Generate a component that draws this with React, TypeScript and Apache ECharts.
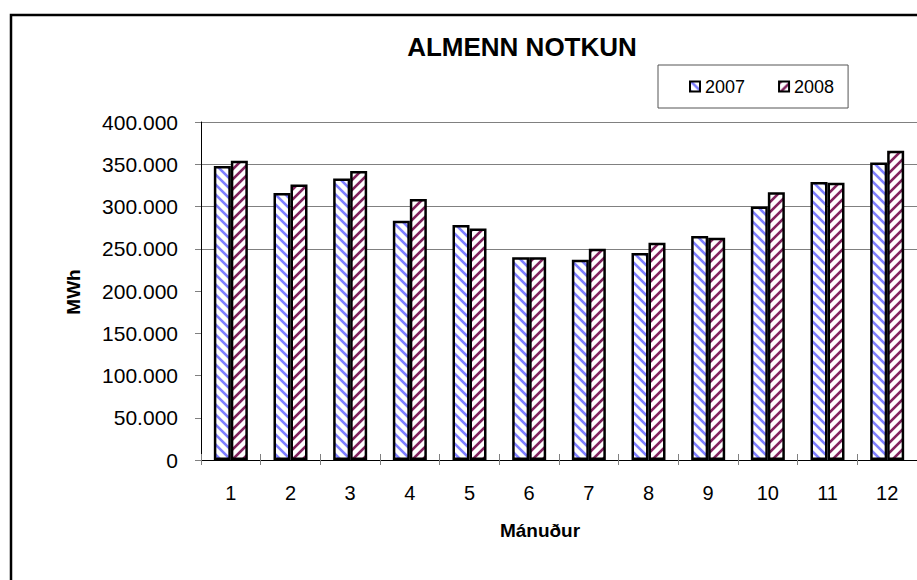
import React, { useEffect, useRef } from "react";
import * as echarts from "echarts";

const months = ["1", "2", "3", "4", "5", "6", "7", "8", "9", "10", "11", "12"];
const series2007 = [348000, 316000, 333000, 283000, 278000, 240000, 237000, 245000, 265000, 300000, 329000, 352000];
const series2008 = [354000, 326000, 342000, 309000, 274000, 240000, 250000, 257000, 263000, 317000, 328000, 366000];
const seriesNames = ["2007", "2008"];
const titleText = "ALMENN NOTKUN";
const yName = "MWh";
const xName = "Mánuður";

const FONT = "'Liberation Sans', Arial, sans-serif";

function makeStripe(rgb: [number, number, number], dir: 1 | -1) {
  const size = 10;
  const c = document.createElement("canvas");
  c.width = size;
  c.height = size;
  const ctx = c.getContext("2d")!;
  const img = ctx.createImageData(size, size);
  for (let y = 0; y < size; y++) {
    for (let x = 0; x < size; x++) {
      const d = (((dir === 1 ? x - y : x + y) % size) + size) % size;
      let a = 0;
      if (d === 0 || d === 1 || d === 2) a = 1;
      else if (d === 3 || d === size - 1) a = 0.35;
      const i = (y * size + x) * 4;
      img.data[i] = Math.round(255 * (1 - a) + rgb[0] * a);
      img.data[i + 1] = Math.round(255 * (1 - a) + rgb[1] * a);
      img.data[i + 2] = Math.round(255 * (1 - a) + rgb[2] * a);
      img.data[i + 3] = 255;
    }
  }
  ctx.putImageData(img, 0, 0);
  return { image: c.toDataURL(), repeat: "repeat", imageWidth: size, imageHeight: size } as any;
}

function fmt(v: number) {
  const s = String(Math.round(v));
  return s.replace(/\B(?=(\d{3})+(?!\d))/g, ".");
}

export default function App() {
  const ref = useRef<HTMLDivElement>(null);
  useEffect(() => {
    if (!ref.current) return;
    const chart = echarts.init(ref.current, null, { renderer: "svg" });
    const blue = makeStripe([128, 128, 255], 1);
    const maroon = makeStripe([130, 36, 94], -1);
    const gridColors = ["none", "none", "none", "none", "none", "#808080", "#808080", "#808080", "#808080"];
    chart.setOption({
      animation: false,
      backgroundColor: "#ffffff",
      textStyle: { fontFamily: FONT },
      grid: { left: 201, top: 122, width: 720, height: 338, containLabel: false },
      legend: {
        data: seriesNames,
        left: 658,
        top: 65,
        orient: "horizontal",
        icon: "rect",
        itemWidth: 10,
        itemHeight: 10,
        itemGap: 33,
        padding: [12, 14, 12, 31],
        borderColor: "#555555",
        borderWidth: 1,
        textStyle: { fontSize: 18, color: "#000", fontFamily: FONT, lineHeight: 19 },
        selectedMode: false,
      },
      xAxis: [
        {
          type: "category",
          data: months,
          boundaryGap: true,
          axisLine: { lineStyle: { color: "#000", width: 1 } },
          axisTick: { show: true, inside: false, length: 5, lineStyle: { color: "#808080" } },
          axisLabel: { fontSize: 20, color: "#000", margin: 23, fontFamily: FONT },
          splitLine: { show: false },
        },
        {
          type: "category",
          data: months,
          position: "bottom",
          boundaryGap: true,
          axisLine: { show: false },
          axisTick: { show: true, inside: true, length: 6, lineStyle: { color: "#808080" } },
          axisLabel: { show: false },
          splitLine: { show: false },
        },
      ],
      yAxis: {
        type: "value",
        min: 0,
        max: 400000,
        interval: 50000,
        axisLine: { show: true, lineStyle: { color: "#000", width: 1 } },
        axisTick: { show: true, inside: false, length: 6, lineStyle: { color: "#808080" } },
        axisLabel: { fontSize: 21, color: "#000", margin: 23, fontFamily: FONT, formatter: (v: number) => fmt(v) },
        splitLine: { show: true, lineStyle: { color: gridColors, width: 1 } },
      },
      series: [
        {
          name: seriesNames[0],
          type: "bar",
          data: series2007,
          barWidth: 17,
          barGap: "0%",
          itemStyle: { color: blue, borderColor: "#000", borderWidth: 2.5 },
          emphasis: { disabled: true },
        },
        {
          name: seriesNames[1],
          type: "bar",
          data: series2008,
          barWidth: 17,
          barGap: "0%",
          itemStyle: { color: maroon, borderColor: "#000", borderWidth: 2.5 },
          emphasis: { disabled: true },
        },
      ],
      graphic: [
        {
          type: "rect",
          shape: { x: 11, y: 15, width: 1000, height: 1000 },
          style: { fill: "none", stroke: "#000", lineWidth: 2.5 },
          silent: true,
          z: 100,
        },
        {
          type: "text",
          x: 522,
          y: 47,
          style: {
            text: titleText,
            font: `bold 26px ${FONT}`,
            fill: "#000",
            textAlign: "center",
            textVerticalAlign: "middle",
          },
        },
        {
          type: "text",
          x: 540,
          y: 530,
          style: {
            text: xName,
            font: `bold 19px ${FONT}`,
            fill: "#000",
            textAlign: "center",
            textVerticalAlign: "middle",
          },
        },
        {
          type: "text",
          x: 73,
          y: 292,
          rotation: Math.PI / 2,
          style: {
            text: yName,
            font: `bold 19px ${FONT}`,
            fill: "#000",
            textAlign: "center",
            textVerticalAlign: "middle",
          },
        },
      ],
    });
    return () => chart.dispose();
  }, []);
  return (
    <div
      ref={ref}
      style={{ position: "fixed", left: 0, top: 0, width: 917, height: 580, background: "#fff" }}
    />
  );
}
